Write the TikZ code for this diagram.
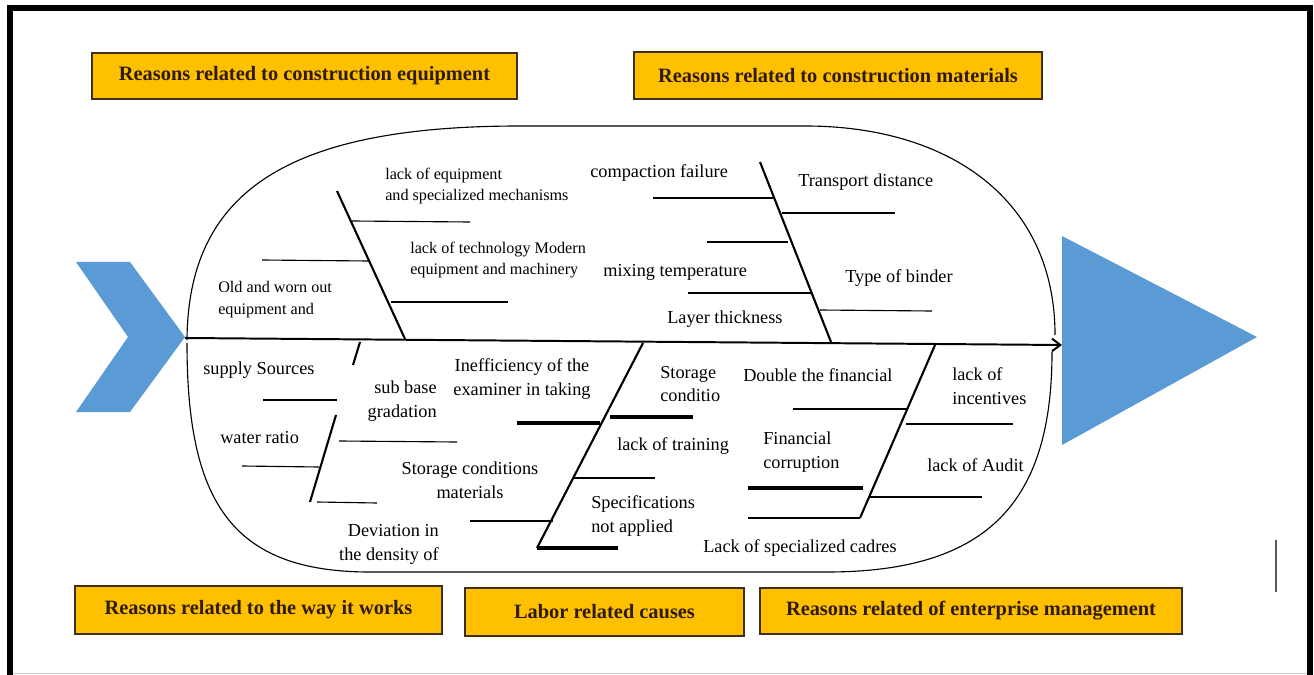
\documentclass[tikz,border=0pt]{standalone}
\usepackage{fontspec}
\setmainfont{Liberation Serif}
\usetikzlibrary{arrows.meta}
\definecolor{boxyellow}{HTML}{FFC000}
\definecolor{boxedge}{HTML}{3F2E1E}
\definecolor{boxtext}{HTML}{2E1B0C}
\definecolor{fishblue}{HTML}{5B9BD5}

\begin{document}
\begin{tikzpicture}[x=0.025cm, y=-0.025cm,
        headbox/.style={draw=boxedge, line width=1.3pt, fill=boxyellow, text=boxtext, font=\fontsize{14.5}{17}\selectfont\bfseries},
        cause/.style={inner sep=0pt, font=\fontsize{13}{17}\selectfont},
        smallcause/.style={cause, font=\fontsize{11.5}{15.5}\selectfont},
        bone/.style={line width=1.5pt},
        twig/.style={line width=0.8pt},
        bigtwig/.style={line width=2.6pt}]
        \useasboundingbox (0,0) rectangle (1314,675);

        % frame
        \draw[line width=0.15cm] (10,675) -- (10,8) -- (1310,8) -- (1310,675);
        \draw[gray!40, line width=0.6pt] (13,673) -- (1307,673);
        \draw[gray!70!black, line width=1.2pt] (1276,540) -- (1276,592);

        % head and tail
        \fill[fishblue] (76,262) -- (130,262) -- (185,337) -- (130,412) -- (76,412) -- (128,337) -- cycle;
        \fill[fishblue] (1062,236) -- (1257,337) -- (1062,445) -- cycle;

        % body
        \draw[line width=0.8pt] (187,340) .. controls (188,190) and (290,126) .. (520,126) -- (805,126)
            .. controls (950,126) and (1055,200) .. (1055,335);
        \draw[line width=0.8pt] (1052,352) .. controls (1052,500) and (990,572) .. (827,572) -- (370,572)
            .. controls (230,572) and (187,500) .. (187,343);

        \coordinate (tail) at (185,338);
        \coordinate (head) at (1062,345);
        \draw[line width=1.4pt, -{Straight Barb[length=6pt,width=9pt]}] (tail) -- (head);

        % upper bones
        \draw[bone] (337,191) -- (405,339);
        \draw[twig] (352,221) -- (470,222);
        \draw[twig] (262,260) -- (369,261);
        \draw[twig] (391,302) -- (508,302);

        \draw[bone] (760,162) -- (831,342);
        \draw[twig] (653,198) -- (774,198);
        \draw[twig] (782,213) -- (895,213);
        \draw[twig] (707,242) -- (788,242);
        \draw[twig] (688,293) -- (811,293);
        \draw[twig] (820,310) -- (932,311);

        % lower bones
        \draw[bone] (360,342) -- (353,365);
        \draw[bone] (336,415) -- (310,502);
        \draw[twig] (263,400) -- (337,400);
        \draw[twig] (339,441) -- (457,442);
        \draw[twig] (242,466) -- (319,467);
        \draw[twig] (317,502) -- (377,503);

        \draw[bone] (643,343) -- (537,548);
        \draw[bigtwig] (517,423) -- (600,423);
        \draw[bigtwig] (610,417) -- (693,417);
        \draw[twig] (573,478) -- (655,478);
        \draw[twig] (470,521) -- (553,521);
        \draw[bigtwig] (537,548) -- (618,548);

        \draw[bone] (935,345) -- (860,518);
        \draw[twig] (793,409) -- (907,409);
        \draw[twig] (906,424) -- (1013,424);
        \draw[bigtwig] (748,488) -- (863,488);
        \draw[twig] (870,497) -- (982,497);
        \draw[twig] (748,518) -- (860,518);

        % causes
        \node[smallcause, anchor=west, align=left] (lackequip) at (385,186) {lack of equipment\\and specialized mechanisms};
        \node[smallcause, anchor=west, align=left] (lacktech) at (410,260) {lack of technology Modern\\equipment and machinery};
        \node[smallcause, anchor=west, align=left] (oldworn) at (218,300) {Old and worn out\\equipment and};
        \node[cause, anchor=west] (compaction) at (590,173) {compaction failure};
        \node[cause, anchor=west] (transport) at (798,182) {Transport distance};
        \node[cause, anchor=west] (mixing) at (603,272) {mixing temperature};
        \node[cause, anchor=west] (binder) at (845,278) {Type of binder};
        \node[cause, anchor=west] (layer) at (667,319) {Layer thickness};

        \node[cause, anchor=west] (supply) at (203,370) {supply Sources};
        \node[cause, anchor=east, align=right] (subbase) at (437,401) {sub base\\gradation};
        \node[cause, anchor=west] (water) at (220,438) {water ratio};
        \node[cause, align=center] (storagemat) at (470,480) {Storage conditions\\materials};
        \node[cause, anchor=east, align=right] (deviation) at (439,544) {Deviation in\\the density of};

        \node[cause, align=center] (examiner) at (522,379) {Inefficiency of the\\examiner in taking};
        \node[cause, anchor=west, align=left] (storagecond) at (660,384) {Storage\\conditio};
        \node[cause, anchor=west] (training) at (617,446) {lack of training};
        \node[cause, anchor=west, align=left] (specs) at (591,516) {Specifications\\not applied};

        \node[cause, anchor=west] (double) at (743,375) {Double the financial};
        \node[cause, anchor=west, align=left] (incentives) at (952,386) {lack of\\incentives};
        \node[cause, anchor=west, align=left] (corruption) at (763,452) {Financial\\corruption};
        \node[cause, anchor=west] (audit) at (927,465) {lack of Audit};
        \node[cause, anchor=west] (cadres) at (703,548) {Lack of specialized cadres};

        % categories
        \node[headbox, minimum width=10.63cm, minimum height=1.15cm] (equipment) at (304.5,76) {Reasons related to construction equipment};
        \node[headbox, minimum width=10.2cm, minimum height=1.175cm] (materials) at (838,75.5) {Reasons related to construction materials};
        \node[headbox, minimum width=9.175cm, minimum height=1.2cm] (works) at (258.5,610) {Reasons related to the way it works};
        \node[headbox, minimum width=6.975cm, minimum height=1.2cm] (labor) at (604.5,612) {Labor related causes};
        \node[headbox, minimum width=10.55cm, minimum height=1.15cm] (management) at (971,611) {Reasons related of enterprise management};
\end{tikzpicture}
\end{document}
